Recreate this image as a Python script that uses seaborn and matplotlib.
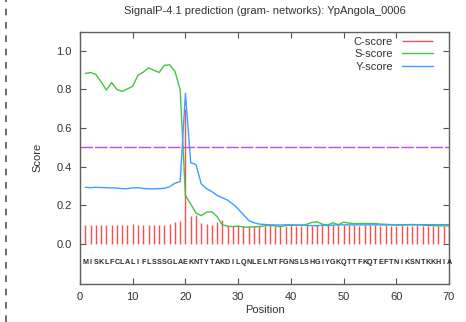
import numpy as np
import pandas as pd
import matplotlib
matplotlib.use("Agg")
import matplotlib.pyplot as plt
import matplotlib.lines as mlines
import seaborn as sns

# SignalP-4.1 output for YpAngola_0006
sequence = "MISKLFCLALIFLSSSGLAEKNTYTAKDILQNLELNTFGNSLSHGIYGKQTTFKQTEFTNIKSNTKKHIA"
positions = list(range(1, len(sequence) + 1))

c_score = [
    0.097, 0.094, 0.094, 0.095, 0.097, 0.097, 0.094, 0.095, 0.094, 0.100,
    0.098, 0.098, 0.097, 0.094, 0.097, 0.098, 0.100, 0.113, 0.118, 0.700,
    0.143, 0.150, 0.105, 0.103, 0.098, 0.112, 0.123, 0.093, 0.092, 0.094,
    0.092, 0.093, 0.091, 0.093, 0.092, 0.094, 0.093, 0.092, 0.093, 0.094,
    0.092, 0.093, 0.095, 0.093, 0.094, 0.096, 0.095, 0.094, 0.096, 0.095,
    0.094, 0.095, 0.093, 0.094, 0.095, 0.094, 0.093, 0.094, 0.092, 0.093,
    0.094, 0.093, 0.092, 0.094, 0.093, 0.092, 0.093, 0.092, 0.093, 0.092,
]
s_score = [
    0.883, 0.888, 0.878, 0.840, 0.797, 0.836, 0.800, 0.790, 0.803, 0.817,
    0.874, 0.890, 0.912, 0.900, 0.888, 0.925, 0.928, 0.895, 0.800, 0.250,
    0.205, 0.158, 0.145, 0.163, 0.165, 0.140, 0.097, 0.090, 0.088, 0.090,
    0.086, 0.085, 0.087, 0.088, 0.092, 0.094, 0.092, 0.087, 0.094, 0.096,
    0.096, 0.095, 0.100, 0.110, 0.113, 0.100, 0.097, 0.108, 0.098, 0.111,
    0.106, 0.104, 0.104, 0.104, 0.104, 0.104, 0.101, 0.100, 0.098, 0.096,
    0.097, 0.098, 0.099, 0.098, 0.096, 0.094, 0.093, 0.092, 0.092, 0.092,
]
y_score = [
    0.292, 0.290, 0.292, 0.291, 0.290, 0.289, 0.288, 0.285, 0.285, 0.289,
    0.290, 0.286, 0.284, 0.284, 0.285, 0.287, 0.295, 0.313, 0.322, 0.780,
    0.420, 0.410, 0.310, 0.285, 0.270, 0.250, 0.238, 0.225, 0.205, 0.180,
    0.150, 0.120, 0.108, 0.101, 0.099, 0.097, 0.097, 0.096, 0.097, 0.097,
    0.096, 0.096, 0.095, 0.093, 0.092, 0.096, 0.093, 0.096, 0.097, 0.097,
    0.097, 0.097, 0.097, 0.097, 0.097, 0.097, 0.097, 0.097, 0.097, 0.097,
    0.097, 0.097, 0.097, 0.098, 0.098, 0.098, 0.098, 0.098, 0.098, 0.098,
]
cutoff = 0.5

df = pd.DataFrame({"Position": positions, "C": c_score, "S": s_score, "Y": y_score})

sns.set_theme(style="ticks")
plt.rcParams['font.family'] = ['Liberation Sans', 'DejaVu Sans']

fig = plt.figure(figsize=(4.66, 3.22), dpi=100)
ax = fig.add_axes([0.1717, 0.1180, 0.7918, 0.7836])

txt = '#333333'
ax.vlines(df["Position"], 0, df["C"], color='#ff4d4d', lw=1.0, label='C-score')
sns.lineplot(data=df, x="Position", y="S", ax=ax, color='#44c444', lw=1.0, label='S-score')
sns.lineplot(data=df, x="Position", y="Y", ax=ax, color='#3d9eff', lw=1.0, label='Y-score')
ax.plot([0, 70], [cutoff, cutoff], color='#cc44ff', lw=1.0, ls=(0, (9, 1.5)))

for p, aa in zip(positions, sequence):
    ax.text(p, -0.1, aa, ha='center', va='center', fontsize=5.2, fontweight='bold', color='#2a2a2a')

ax.set_xlim(0, 70)
ax.set_ylim(-0.21, 1.1)
ax.set_xticks(range(0, 71, 10))
ax.set_yticks([0.0, 0.2, 0.4, 0.6, 0.8, 1.0])
ax.set_yticklabels(['0.0', '0.2', '0.4', '0.6', '0.8', '1.0'])
ax.tick_params(direction='in', top=True, right=True, length=4, width=0.8,
               labelsize=8, labelcolor=txt, color='#555555', pad=6)
for s in ax.spines.values():
    s.set_color('#606060')
    s.set_linewidth(1.0)

ax.set_xlabel('Position', fontsize=8, color=txt, labelpad=2)
ax.set_ylabel('Score', fontsize=8, color=txt, labelpad=10)
ax.set_title('SignalP-4.1 prediction (gram- networks): YpAngola_0006',
             fontsize=8, color=txt, pad=13)

ax.legend(loc='upper right', frameon=False, markerfirst=False, fontsize=8,
          handlelength=2.8, labelspacing=0.2, borderaxespad=0.2,
          labelcolor=txt, bbox_to_anchor=(0.975, 1.005))

# dashed page border at the left edge of the screenshot
fig.add_artist(mlines.Line2D([0.012, 0.012], [0, 1], color='#555555', lw=1.2,
                             ls=(0, (4, 4)), transform=fig.transFigure))

fig.savefig('out.png', dpi=100)
